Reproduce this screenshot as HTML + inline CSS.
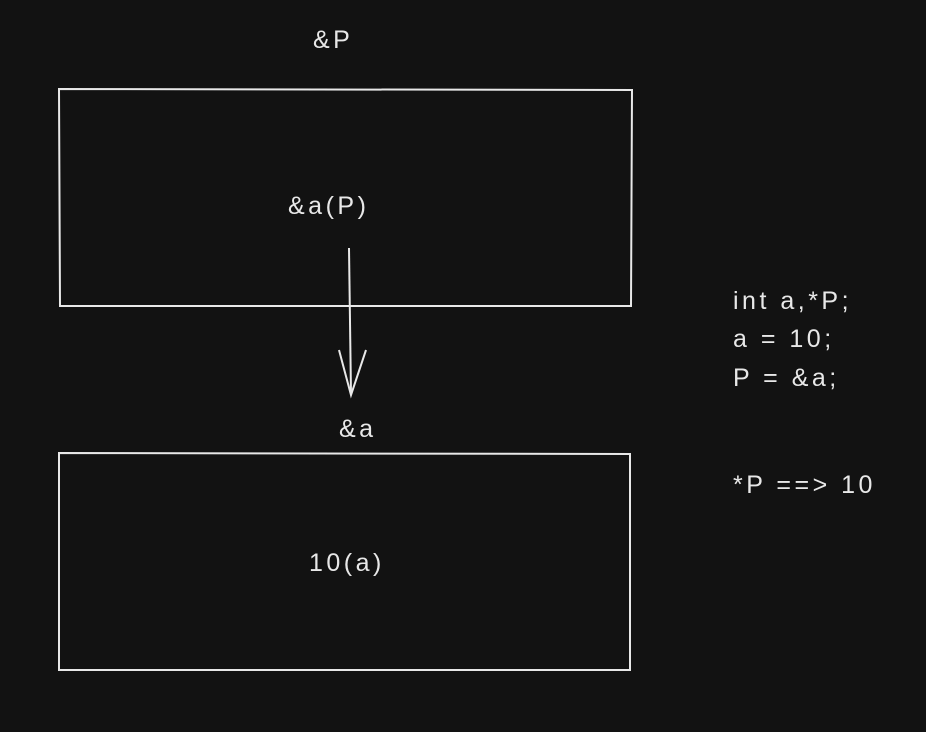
<!DOCTYPE html>
<html><head><meta charset="utf-8"><style>
html,body{margin:0;padding:0;background:#121212;}
svg{display:block}
text{font-family:"Liberation Sans",sans-serif;fill:#e8e8e8;font-size:25px;letter-spacing:3.5px;}
</style></head><body>
<svg width="926" height="732" viewBox="0 0 926 732">
<rect width="926" height="732" fill="#121212"/>
<text x="313" y="48">&amp;P</text>
<path d="M59 89 L632 90 L631 306 L60 306 Z" fill="none" stroke="#e8e8e8" stroke-width="2"/>
<text x="288" y="214">&amp;a(P)</text>
<g stroke="#e8e8e8" stroke-width="2" fill="none">
<path d="M349 248 L351 395"/>
<path d="M339 350 L351 395 L366 350"/>
</g>
<text x="339" y="437">&amp;a</text>
<path d="M59 453 L630 454 L630 670 L59 670 Z" fill="none" stroke="#e8e8e8" stroke-width="2"/>
<text x="309" y="571">10(a)</text>
<text x="733" y="309">int a,*P;</text>
<text x="733" y="347">a = 10;</text>
<text x="733" y="386">P = &amp;a;</text>
<text x="733" y="493">*P ==&gt; 10</text>
</svg>
</body></html>
